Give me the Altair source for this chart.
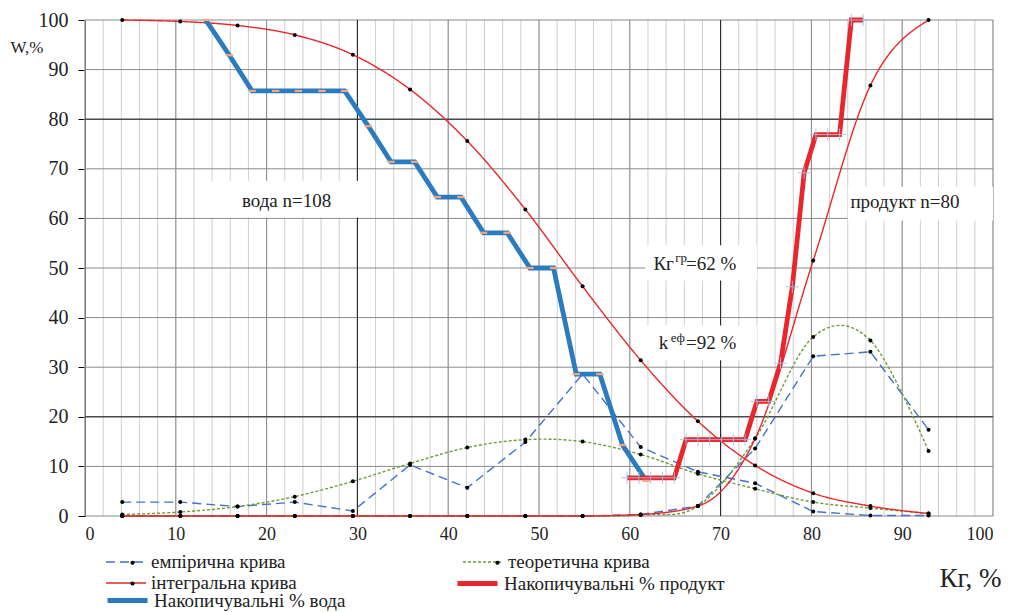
import altair as alt
import pandas as pd

# ---------------- data ----------------
x_mid = [4.1, 10.5, 16.8, 23.1, 29.5, 35.8, 42.1, 48.5, 54.8, 61.2, 67.5, 73.8, 80.2, 86.5, 92.9]

water_emp = [2.8, 2.8, 1.9, 2.8, 1.0, 10.3, 5.7, 14.9, 28.6, 13.9, 8.9, 6.6, 0.9, 0.1, 0.1]
water_theor = [0.3, 0.8, 1.9, 3.9, 7.0, 10.6, 13.8, 15.4, 15.0, 12.4, 8.5, 5.5, 2.8, 1.6, 0.5]
water_integral = [100, 99.7, 98.9, 97.0, 93.0, 86.0, 75.6, 61.8, 46.3, 31.4, 19.1, 10.2, 4.6, 2.0, 0.5]

product_emp = [0, 0, 0, 0, 0, 0, 0, 0, 0, 0.3, 2.0, 13.6, 32.2, 33.1, 17.4]
product_theor = [0, 0, 0, 0, 0, 0, 0, 0, 0, 0.2, 2.0, 15.6, 36.1, 35.4, 13.1]
product_integral = [0, 0, 0, 0, 0, 0, 0, 0, 0, 0.3, 2.0, 15.6, 51.5, 86.8, 100]

step_water_x = [13.3, 15.9, 18.4, 21.0, 23.5, 26.1, 28.6, 31.2, 33.7, 36.3,
                38.8, 41.4, 43.9, 46.5, 49.0, 51.6, 54.1, 56.7, 59.2, 61.8]
step_water_y = [100, 92.9, 85.7, 85.7, 85.7, 85.7, 85.7, 78.6, 71.4, 71.4,
                64.3, 64.3, 57.1, 57.1, 50.0, 50.0, 28.6, 28.6, 14.3, 7.1]

step_prod_x = [59.7, 61.0, 62.3, 63.6, 64.9, 66.2, 67.5, 68.8, 70.1, 71.4, 72.7,
               74.0, 75.3, 76.6, 77.9, 79.2, 80.5, 81.8, 83.1, 84.4, 85.7]
step_prod_y = [7.7, 7.7, 7.7, 7.7, 7.7, 15.4, 15.4, 15.4, 15.4, 15.4, 15.4,
               23.1, 23.1, 30.8, 46.2, 69.2, 76.9, 76.9, 76.9, 100, 100]

series_labels = ["емпірична крива", "теоретична крива", "інтегральна крива",
                 "Накопичувальні % продукт", "Накопичувальні % вода"]
series_colors = ["#4472C4", "#6E9B3A", "#E8262B", "#E8262B", "#2A7BC0"]
series_dash = [[9, 5], [3, 2], [1, 0], [1, 0], [1, 0]]
THIN = 1.4
THICK = 4.8

x_ticks = [0, 10, 20, 30, 40, 50, 60, 70, 80, 90, 100]
y_ticks = [0, 10, 20, 30, 40, 50, 60, 70, 80, 90, 100]
minor_x = list(range(0, 101, 2))
major_x = list(range(0, 101, 10))
dark_x = [30, 70]
dark_y = [20, 80]

label_text = ["вода n=108", "продукт n=80"]
label_x = [22.2, 90.3]
label_y = [63.5, 63.3]

formula_text = ["Кг", "=62 %", "k", "=92 %"]
formula_x = [62.6, 66.2, 63.2, 66.2]
formula_y = [50.9, 50.9, 34.8, 34.8]
sup_text = ["гр", "еф"]
sup_x = [65.0, 64.5]
sup_y = [52.0, 35.9]

box_x = [12.8, 84.0, 61.7, 61.7]
box_x2 = [30.4, 100.0, 74.0, 74.0]
box_y = [60.2, 59.6, 47.5, 31.4]
box_y2 = [67.6, 66.4, 54.6, 38.4]

FONT = "Liberation Serif"
LFS = 19

# ---------------- frames ----------------
def curve(label, group, xs, ys, w):
    return pd.DataFrame({"series": label, "group": group, "x": xs, "y": ys, "w": w,
                         "i": list(range(len(xs)))})

emp_df = pd.concat([curve(series_labels[0], "w", x_mid, water_emp, THIN),
                    curve(series_labels[0], "p", x_mid, product_emp, THIN)])
theor_df = pd.concat([curve(series_labels[1], "w", x_mid, water_theor, THIN),
                      curve(series_labels[1], "p", x_mid, product_theor, THIN)])
integ_df = pd.concat([curve(series_labels[2], "w", x_mid, water_integral, THIN),
                      curve(series_labels[2], "p", x_mid, product_integral, THIN)])
stepw_df = curve(series_labels[4], "sw", step_water_x, step_water_y, THICK)
stepp_df = curve(series_labels[3], "sp", step_prod_x, step_prod_y, THICK)

X = alt.X("x:Q", scale=alt.Scale(domain=[0, 100], nice=False, zero=False),
          axis=alt.Axis(values=x_ticks, title="Кг, %", grid=False, domain=False, ticks=False,
                        labelFont=FONT, labelFontSize=18, labelColor="#222", labelPadding=9,
                        titleFont=FONT, titleFontSize=27, titleFontWeight="normal",
                        titleColor="#222", titleX=885, titleY=62, titleAlign="center",
                        titleBaseline="middle"))
Y = alt.Y("y:Q", scale=alt.Scale(domain=[0, 100], nice=False, zero=False),
          axis=alt.Axis(values=y_ticks, title="W,%", grid=False, domain=True,
                        domainColor="#000", tickColor="#000", tickSize=7,
                        labelFont=FONT, labelFontSize=20, labelColor="#222", labelPadding=10,
                        titleFont=FONT, titleFontSize=17, titleFontWeight="normal",
                        titleColor="#222", titleAngle=0, titleX=-75, titleY=27,
                        titleAlign="left", titleBaseline="middle"))


def legend(lx, ly, sw, cols=1, colpad=10):
    return alt.Legend(
        title=None, orient="none", legendX=lx, legendY=ly, columns=cols, direction="horizontal",
        columnPadding=colpad, rowPadding=0, symbolType="M-2,0H2", symbolSize=400,
        symbolOffset=10, labelOffset=14, symbolStrokeWidth=sw,
        labelFont=FONT, labelFontSize=LFS, labelColor="#222", labelLimit=0)


def dot_legend(lx, ly, cols=1, colpad=10):
    return alt.Legend(
        title=None, orient="none", legendX=lx, legendY=ly, columns=cols, direction="horizontal",
        columnPadding=colpad, rowPadding=0, symbolType="circle", symbolSize=18,
        symbolOffset=18, labelOffset=0, symbolStrokeWidth=0, symbolFillColor="black",
        labelExpr="''", labelFont=FONT, labelFontSize=LFS, labelLimit=0)


def line_layer(df, interp, idx, leg):
    dom = [series_labels[k] for k in idx]
    return alt.Chart(df).mark_line(interpolate=interp).encode(
        x=X, y=Y, detail="group:N", order="i:Q",
        color=alt.Color("series:N", scale=alt.Scale(domain=dom, range=[series_colors[k] for k in idx]), legend=leg),
        strokeDash=alt.StrokeDash("series:N", scale=alt.Scale(domain=dom, range=[series_dash[k] for k in idx]), legend=leg),
        strokeWidth=alt.StrokeWidth("w:Q", scale=None, legend=None))


def dot_layer(df, idx, leg):
    dom = [series_labels[k] for k in idx]
    return alt.Chart(df).mark_point(filled=True, color="black", size=16, opacity=1, strokeWidth=0).encode(
        x=X, y=Y,
        shape=alt.Shape("series:N", scale=alt.Scale(domain=dom, range=["circle"] * len(dom)), legend=leg))

# ---------------- grid ----------------
g_minor = alt.Chart(pd.DataFrame({"x": minor_x})).mark_rule(color="#cfcfcf", strokeWidth=1).encode(x=X)
g_major = alt.Chart(pd.DataFrame({"x": major_x})).mark_rule(color="#8a8a8a", strokeWidth=1).encode(x=X)
g_y = alt.Chart(pd.DataFrame({"y": y_ticks})).mark_rule(color="#8a8a8a", strokeWidth=1).encode(y=Y)
g_dx = alt.Chart(pd.DataFrame({"x": dark_x})).mark_rule(color="#222", strokeWidth=1).encode(x=X)
g_dy = alt.Chart(pd.DataFrame({"y": dark_y})).mark_rule(color="#222", strokeWidth=1).encode(y=Y)

boxes = alt.Chart(pd.DataFrame({"x": box_x, "x2": box_x2, "y": box_y, "y2": box_y2})).mark_rect(
    color="white").encode(x=X, x2="x2:Q", y=Y, y2="y2:Q")

# ---------------- curves ----------------
leg_a = legend(20, 531, 1.5, cols=2, colpad=174)
group_a = alt.layer(line_layer(emp_df, "linear", [0, 1], leg_a),
                    line_layer(theor_df, "cardinal", [0, 1], leg_a))
group_b = line_layer(integ_df, "monotone", [2], legend(20, 552, 1.5))
dleg_a = dot_legend(20, 533, cols=2, colpad=328)
dots_a = alt.layer(dot_layer(emp_df, [0, 1], dleg_a), dot_layer(theor_df, [0, 1], dleg_a))
dots_b = dot_layer(integ_df, [2], dot_legend(20, 554))
group_c = line_layer(stepp_df, "linear", [3], legend(370, 551, 5))
group_d = line_layer(stepw_df, "linear", [4], legend(20, 568, 5))

w_marks = alt.Chart(stepw_df).mark_point(
    shape="M-1,-0.3H1V0.3H-1Z", filled=True, color="#F4A582", size=55, opacity=1
).encode(x=X, y=Y)
p_marks = alt.Chart(stepp_df).mark_point(
    shape="M-1,0H1M0,-1V1", filled=False, color="#9DC3E6", strokeWidth=1, size=150, opacity=0.9
).encode(x=X, y=Y)

# ---------------- text ----------------
labels = alt.Chart(pd.DataFrame({"t": label_text, "x": label_x, "y": label_y})).mark_text(
    font=FONT, fontSize=19, color="#222", align="center", baseline="middle").encode(
    x=X, y=Y, text="t:N")
formula = alt.Chart(pd.DataFrame({"t": formula_text, "x": formula_x, "y": formula_y})).mark_text(
    font=FONT, fontSize=19, color="#222", align="left", baseline="middle").encode(
    x=X, y=Y, text="t:N")
sups = alt.Chart(pd.DataFrame({"t": sup_text, "x": sup_x, "y": sup_y})).mark_text(
    font=FONT, fontSize=13, color="#222", align="left", baseline="middle").encode(
    x=X, y=Y, text="t:N")

chart = alt.layer(
    g_minor, g_major, g_y, g_dx, g_dy, boxes,
    group_a, group_b, dots_a, dots_b, group_d, group_c, w_marks, p_marks,
    labels, formula, sups
).resolve_scale(
    color="independent", strokeDash="independent", shape="independent"
).properties(
    width=908, height=496,
    autosize=alt.AutoSizeParams(type="none"),
    padding={"left": 77, "top": 12, "right": 8, "bottom": 96},
    background="white"
).configure_view(stroke=None)

chart.save("out.html", embed_options={"renderer": "svg", "actions": False})
